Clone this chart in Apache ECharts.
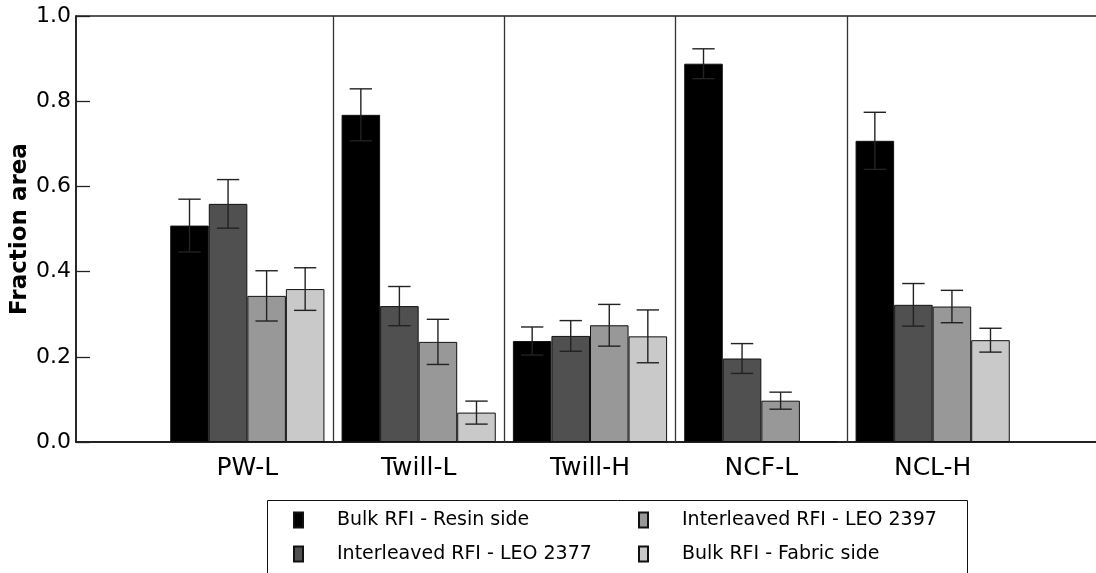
<!DOCTYPE html>
<html>
<head>
<meta charset="utf-8">
<script src="https://cdn.jsdelivr.net/npm/echarts@6/dist/echarts.min.js"></script>
<style>
  html, body { margin: 0; padding: 0; background: #fff; }
  #chart { width: 1096px; height: 573px; }
</style>
</head>
<body>
<div id="chart"></div>
<script>
// Fabric groups along the x axis
const categories = ['PW-L', 'Twill-L', 'Twill-H', 'NCF-L', 'NCL-H'];

// Series names (legend order)
const seriesNames = [
  'Bulk RFI - Resin side',
  'Interleaved RFI - LEO 2377',
  'Interleaved RFI - LEO 2397',
  'Bulk RFI - Fabric side'
];

// Mean fraction area per fabric, with the error-bar half widths
const bulkResin       = [0.508, 0.768, 0.237, 0.888, 0.707];
const bulkResinErr    = [0.062, 0.061, 0.033, 0.035, 0.067];
const leo2377         = [0.559, 0.319, 0.249, 0.196, 0.322];
const leo2377Err      = [0.057, 0.046, 0.036, 0.035, 0.050];
const leo2397         = [0.343, 0.235, 0.274, 0.097, 0.318];
const leo2397Err      = [0.059, 0.053, 0.049, 0.020, 0.038];
const bulkFabric      = [0.359, 0.069, 0.248, 0.002, 0.239];
const bulkFabricErr   = [0.050, 0.027, 0.062, 0.000, 0.028];

// Y axis ticks
const yMin = 0, yMax = 1.0, yStep = 0.2;

const values = [bulkResin, leo2377, leo2397, bulkFabric];
const errors = [bulkResinErr, leo2377Err, leo2397Err, bulkFabricErr];
const fills = ['#000000', '#505050', '#989898', '#c9c9c9'];

const FONT = 'DejaVu Sans';
const BAR_GAP_RATIO = 0.10;   // barCategoryGap as a fraction
const nSeries = values.length;

// group i sits at x = i + 1 on a 0..6 value scale
const xPos = categories.map((_, i) => i + 1);
const dividers = categories.slice(1).map((_, i) => i + 1.5);

const barSeries = values.map((vals, s) => ({
  type: 'bar',
  name: seriesNames[s],
  data: vals.map((v, i) => [xPos[i], v]),
  barGap: '0%',
  barCategoryGap: (BAR_GAP_RATIO * 100) + '%',
  itemStyle: { color: fills[s], borderColor: '#111', borderWidth: 1 },
  silent: true,
  z: 2
}));

// vertical lines separating the fabric groups
const dividerSeries = {
  type: 'line',
  name: 'dividers',
  data: [],
  silent: true,
  markLine: {
    silent: true,
    symbol: 'none',
    label: { show: false },
    lineStyle: { color: '#333', width: 1.3, type: 'solid' },
    data: dividers.map(x => ({ xAxis: x }))
  }
};

const errorSeries = values.map((vals, s) => ({
  type: 'custom',
  name: seriesNames[s] + ' error',
  silent: true,
  z: 3,
  data: vals.map((v, i) => [xPos[i], v, errors[s][i]]),
  renderItem: function (params, api) {
    const x = api.value(0), v = api.value(1), e = api.value(2);
    if (!e) return null;
    const band = api.size([1, 0])[0];
    const barW = band * (1 - BAR_GAP_RATIO) / nSeries;
    const cx = api.coord([x, v])[0] + (s - (nSeries - 1) / 2) * barW;
    const yTop = api.coord([x, v + e])[1];
    const yBot = api.coord([x, v - e])[1];
    const half = barW * 0.29;
    const st = { stroke: '#222', lineWidth: 1.4 };
    return {
      type: 'group',
      children: [
        { type: 'line', shape: { x1: cx, y1: yTop, x2: cx, y2: yBot }, style: st },
        { type: 'line', shape: { x1: cx - half, y1: yTop, x2: cx + half, y2: yTop }, style: st },
        { type: 'line', shape: { x1: cx - half, y1: yBot, x2: cx + half, y2: yBot }, style: st }
      ]
    };
  }
}));

const legendBase = {
  orient: 'vertical',
  top: 509,
  padding: 0,
  icon: 'rect',
  itemWidth: 9,
  itemHeight: 15,
  itemGap: 12,
  selectedMode: false,
  textStyle: { fontFamily: FONT, fontSize: 19, lineHeight: 22, color: '#000', padding: [0, 0, 0, 29] }
};

const option = {
  animation: false,
  backgroundColor: '#fff',
  grid: {
    left: 76, top: 16, right: -8, bottom: 131,
    outerBoundsMode: 'none',
    containLabel: false,
    show: true, borderColor: '#222', borderWidth: 1.3, backgroundColor: 'transparent'
  },
  xAxis: {
    type: 'value',
    min: 0, max: categories.length + 1, interval: 1,
    axisLine: { show: true, onZero: false, lineStyle: { color: '#111', width: 1.5 } },
    axisTick: { show: false },
    splitLine: { show: false },
    axisLabel: {
      margin: 14,
      fontFamily: FONT, fontSize: 25, color: '#000',
      formatter: v => categories[v - 1] || ''
    }
  },
  yAxis: {
    type: 'value',
    min: yMin, max: yMax, interval: yStep,
    name: 'Fraction area',
    nameLocation: 'middle',
    nameGap: 44,
    nameMoveOverlap: false,
    nameTextStyle: { fontFamily: FONT, fontSize: 23, fontWeight: 'bold', color: '#000' },
    axisLine: { show: true, lineStyle: { color: '#111', width: 1.5 } },
    axisTick: { show: true, inside: true, length: 14, lineStyle: { color: '#222', width: 1.3 } },
    splitLine: { show: false },
    axisLabel: {
      margin: 5,
      fontFamily: FONT, fontSize: 22, color: '#000',
      formatter: v => v.toFixed(1)
    }
  },
  legend: [
    Object.assign({}, legendBase, { left: 293, data: [seriesNames[0], seriesNames[1]] }),
    Object.assign({}, legendBase, { left: 638, data: [seriesNames[2], seriesNames[3]] })
  ],
  graphic: [{
    type: 'rect',
    silent: true,
    shape: { x: 267.5, y: 500.5, width: 700, height: 120 },
    style: { fill: 'none', stroke: '#111', lineWidth: 1 }
  }],
  series: barSeries.concat([dividerSeries], errorSeries)
};

const chart = echarts.init(document.getElementById('chart'), null, { renderer: 'canvas' });
chart.setOption(option);
</script>
</body>
</html>
